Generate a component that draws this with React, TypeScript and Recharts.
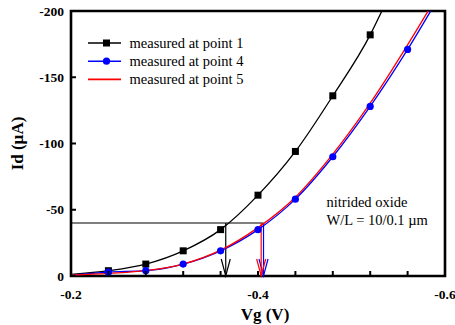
import React from "react";
import {
  ComposedChart,
  Line,
  XAxis,
  YAxis,
  ReferenceLine,
  ReferenceArea,
  Legend,
} from "recharts";

// ---- data ----
const vgMeasured = [-0.24, -0.28, -0.32, -0.36, -0.4, -0.44, -0.48, -0.52, -0.56];
const idPoint1 = [-4, -9, -19, -35, -61, -94, -136, -182, null];
const idPoint4 = [-3, -4, -9, -19, -35, -58, -90, -128, -171];
const idPoint5 = [-2, -4, -9, -19.5, -36.5, -59.5, -92, -130.5, -174.5];

// fitted curves: value at Vg = -0.2 and Vg where each curve leaves the top (-200)
const curveStartVg = -0.2;
const curveStartId = [-1.2, -0.6, -0.6]; // point 1, 4, 5
const curveEndVg = [-0.5325, -0.5847, -0.5819]; // point 1, 4, 5
const curveEndId = -200;

// threshold construction
const thresholdId = -40;
const thresholdVg = [-0.3655, -0.4059, -0.4034]; // point 1, 4, 5
const thresholdLineEnd = -0.406;

// axes
const xTicks = [-0.2, -0.24, -0.28, -0.32, -0.36, -0.4, -0.44, -0.48, -0.52, -0.56, -0.6];
const xTickLabels = ["-0.2", "", "", "", "", "-0.4", "", "", "", "", "-0.6"];
const yTicks = [-200, -150, -100, -50, 0];
const yTickLabels = ["-200", "-150", "-100", "-50", "0"];

const seriesNames = ["measured at point 1", "measured at point 4", "measured at point 5"];
const seriesColors = ["#000000", "#0000ff", "#ff0000"];

const annotation = ["nitrided oxide", "W/L = 10/0.1 \u00b5m"];
const xTitle = "Vg (V)";
const yTitle = "Id (\u00b5A)";

// ---- build tables ----
type Pt = { vg: number; id: number };
const markers = (vals: (number | null)[]): Pt[] =>
  vgMeasured
    .map((vg, i) => ({ vg, id: vals[i] as number }))
    .filter((p) => p.id !== null && p.id !== undefined);

const curve = (vals: (number | null)[], k: number): Pt[] => [
  { vg: curveStartVg, id: curveStartId[k] },
  ...markers(vals),
  { vg: curveEndVg[k], id: curveEndId },
];

const markers1 = markers(idPoint1);
const markers4 = markers(idPoint4);
const curve1 = curve(idPoint1, 0);
const curve4 = curve(idPoint4, 1);
const curve5 = curve(idPoint5, 2);

const FONT = "Liberation Serif, Times New Roman, serif";
const regular: React.CSSProperties = { fontFamily: FONT, fontSize: 14.5 };
const bold: React.CSSProperties = { fontFamily: FONT, fontWeight: "bold", fontSize: 13.5 };
const title: React.CSSProperties = { fontFamily: FONT, fontWeight: "bold", fontSize: 17 };

const XTick = (props: any) => {
  const { x, y, payload } = props;
  const idx = xTicks.findIndex((v) => Math.abs(v - payload.value) < 1e-9);
  const label = idx >= 0 ? xTickLabels[idx] : "";
  return (
    <g>
      <line x1={x} y1={y} x2={x} y2={y - 5} stroke="#000" strokeWidth={2} />
      {label ? (
        <text x={x} y={y + 22.5} textAnchor="middle" style={bold} fill="#000">
          {label}
        </text>
      ) : null}
    </g>
  );
};

const YTick = (props: any) => {
  const { x, y, payload } = props;
  const idx = yTicks.findIndex((v) => v === payload.value);
  const label = idx >= 0 ? yTickLabels[idx] : "";
  return (
    <g>
      <line x1={x} y1={y} x2={x + 5} y2={y} stroke="#000" strokeWidth={2} />
      <text x={x - 7} y={y + 4.5} textAnchor="end" style={bold} fill="#000">
        {label}
      </text>
    </g>
  );
};

const squareDot = (props: any) => {
  const { cx, cy, index } = props;
  if (cx == null || cy == null) return <g key={`s${index}`} />;
  return <rect key={`s${index}`} x={cx - 3.5} y={cy - 3.5} width={7} height={7} fill="#000" />;
};

const circleDot = (props: any) => {
  const { cx, cy, index } = props;
  if (cx == null || cy == null) return <g key={`c${index}`} />;
  return <circle key={`c${index}`} cx={cx} cy={cy} r={3.6} fill="#0000ff" />;
};

const arrowShape = (color: string) => (props: any) => {
  const { x1, y1, x2, y2 } = props;
  return (
    <g>
      <line x1={x1} y1={y1} x2={x2} y2={y2} stroke={color} strokeWidth={1.2} />
      <polyline
        points={`${x2 - 4.5},${y2 - 17} ${x2},${y2} ${x2 + 4.5},${y2 - 17}`}
        fill="none"
        stroke={color}
        strokeWidth={1.2}
      />
    </g>
  );
};

const LegendContent = () => (
  <svg width={200} height={60} style={{ display: "block", overflow: "visible" }}>
    {seriesNames.map((name, i) => {
      const y = 6 + i * 18.2;
      return (
        <g key={name}>
          <line x1={0} y1={y} x2={33} y2={y} stroke={seriesColors[i]} strokeWidth={1.6} />
          {i === 0 ? <rect x={15} y={y - 3.5} width={7} height={7} fill="#000" /> : null}
          {i === 1 ? <circle cx={18.5} cy={y} r={3.6} fill="#0000ff" /> : null}
          <text x={41.5} y={y + 4.5} style={regular} fill="#000">
            {name}
          </text>
        </g>
      );
    })}
  </svg>
);

const YLabel = (props: any) => {
  const vb = props.viewBox || { x: 11, y: 11, width: 60, height: 265 };
  const x = vb.x + 12;
  const y = vb.y + vb.height / 2;
  return (
    <text x={x} y={y} transform={`rotate(-90 ${x} ${y})`} textAnchor="middle" style={title} fill="#000">
      {yTitle}
    </text>
  );
};

const XLabel = (props: any) => {
  const vb = props.viewBox || { x: 71, y: 276, width: 374, height: 30 };
  const x = vb.x + vb.width / 2 + 7;
  const y = vb.y + 44;
  return (
    <text x={x} y={y} textAnchor="middle" style={title} fill="#000">
      {xTitle}
    </text>
  );
};

export default function App() {
  return (
    <div style={{ position: "absolute", left: 0, top: 0, width: 455, height: 325, background: "#fff" }}>
      <ComposedChart width={455} height={325} margin={{ top: 11, right: 10, bottom: 19, left: 11 }}>
        <XAxis
          dataKey="vg"
          type="number"
          domain={[-0.6, -0.2]}
          reversed
          allowDataOverflow
          ticks={xTicks}
          interval={0}
          tickSize={0}
          tickMargin={0}
          tickLine={false}
          axisLine={false}
          tick={<XTick />}
          height={30}
          label={<XLabel />}
        />
        <YAxis
          type="number"
          domain={[-200, 0]}
          reversed
          allowDataOverflow
          ticks={yTicks}
          interval={0}
          tickSize={0}
          tickMargin={0}
          tickLine={false}
          axisLine={false}
          tick={<YTick />}
          width={60}
          label={<YLabel />}
        />
        <ReferenceArea
          x1={-0.2}
          x2={-0.6}
          y1={0}
          y2={-200}
          fill="none"
          fillOpacity={0}
          stroke="#000"
          strokeWidth={2.6}
          ifOverflow="visible"
        />
        <ReferenceLine
          segment={[
            { x: -0.2, y: thresholdId },
            { x: thresholdLineEnd, y: thresholdId },
          ]}
          stroke="#000"
          strokeWidth={1.2}
        />
        <ReferenceLine
          segment={[
            { x: thresholdVg[0], y: thresholdId },
            { x: thresholdVg[0], y: 0 },
          ]}
          shape={arrowShape(seriesColors[0])}
        />
        <ReferenceLine
          segment={[
            { x: thresholdVg[1], y: thresholdId },
            { x: thresholdVg[1], y: 0 },
          ]}
          shape={arrowShape(seriesColors[1])}
        />
        <ReferenceLine
          segment={[
            { x: thresholdVg[2], y: thresholdId },
            { x: thresholdVg[2], y: 0 },
          ]}
          shape={arrowShape(seriesColors[2])}
        />
        <Line data={curve1} dataKey="id" type="monotone" stroke={seriesColors[0]} strokeWidth={1.3} dot={false} isAnimationActive={false} />
        <Line data={curve4} dataKey="id" type="monotone" stroke={seriesColors[1]} strokeWidth={1.3} dot={false} isAnimationActive={false} />
        <Line data={curve5} dataKey="id" type="monotone" stroke={seriesColors[2]} strokeWidth={1.3} dot={false} isAnimationActive={false} />
        <Line data={markers1} dataKey="id" stroke="none" dot={squareDot} activeDot={false} isAnimationActive={false} />
        <Line data={markers4} dataKey="id" stroke="none" dot={circleDot} activeDot={false} isAnimationActive={false} />
        <Legend
          layout="vertical"
          align="center"
          verticalAlign="middle"
          content={<LegendContent />}
          wrapperStyle={{ position: "absolute", left: 88, top: 36.5, width: 200, height: 60, margin: 0 }}
        />
      </ComposedChart>
      <svg width={455} height={325} style={{ position: "absolute", left: 0, top: 0, pointerEvents: "none" }}>
        {annotation.map((t, i) => (
          <text key={t} x={326.5} y={207 + i * 18} style={regular} fill="#000">
            {t}
          </text>
        ))}
      </svg>
    </div>
  );
}
